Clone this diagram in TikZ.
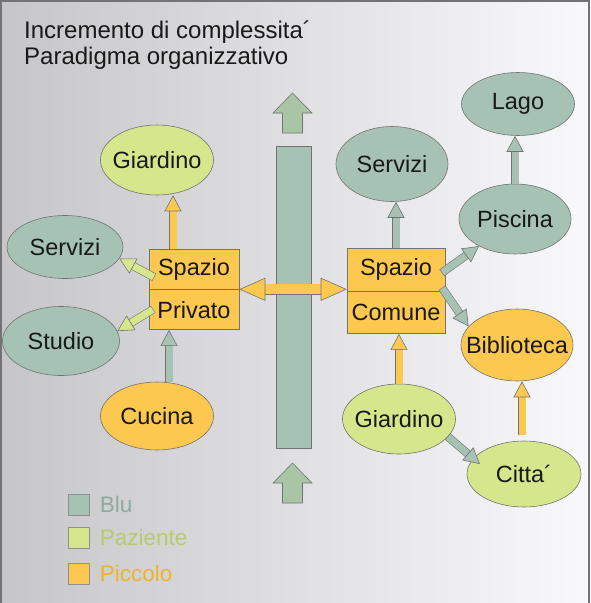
\documentclass[tikz,border=0pt]{standalone}
\usepackage{fontspec}
\setmainfont{Liberation Sans}
\usetikzlibrary{arrows.meta,shapes.geometric,positioning}

\definecolor{blu}{HTML}{A6C2B4}
\definecolor{paziente}{HTML}{D6E68C}
\definecolor{piccolo}{HTML}{FCC850}
\definecolor{bordo}{HTML}{737373}
\definecolor{freccione}{HTML}{A9C5A6}
\definecolor{sfondoS}{HTML}{C6C6C8}
\definecolor{sfondoD}{HTML}{F9F9FB}
\definecolor{bluT}{HTML}{8FA99C}
\definecolor{pazienteT}{HTML}{B7CB6C}
\definecolor{piccoloT}{HTML}{EDB22F}

\begin{document}
\begin{tikzpicture}[x=1pt,y=-1pt,
  every node/.style={font=\fontsize{23.5}{26}\selectfont, text=black!90},
  ovale/.style={ellipse, draw=bordo, line width=0.6pt, inner ysep=0pt, inner xsep=-6pt, minimum width=113, minimum height=70},
  scatola/.style={rectangle, draw=bordo, line width=0.6pt, fill=piccolo, inner sep=0pt, minimum width=90, minimum height=40},
  freccia/.style={draw=#1, line width=7pt,
    -{Triangle[width=17pt,length=16pt,line width=0.6pt,color=bordo,fill=#1]},
    preaction={draw=bordo, line width=8.2pt, -, shorten >=14pt, shorten <=-0.6pt}},
  doppia/.style={draw=#1, line width=10pt,
    {Triangle[width=23pt,length=26pt,line width=0.6pt,color=bordo,fill=#1]}-{Triangle[width=23pt,length=26pt,line width=0.6pt,color=bordo,fill=#1]},
    preaction={draw=bordo, line width=11.2pt, -, shorten >=24pt, shorten <=24pt}},
  quadro/.style={draw=bordo!80, line width=0.5pt, minimum size=21, inner sep=0pt},
  voce/.style={font=\fontsize{22.5}{26}\selectfont, inner sep=2pt}]

  \useasboundingbox (0,0) rectangle (591,603);
  \shade[left color=sfondoS, right color=sfondoD] (0,0) rectangle (591,603);
  \draw[bordo, line width=1.5pt] (1,603) -- (1,1) -- (589,1) -- (589,603);

  % titolo
  \node[anchor=base west, inner sep=0pt, font=\fontsize{24}{26}\selectfont] (titolo) at (24,38) {Incremento di complessita´};
  \node[anchor=base west, inner sep=0pt, font=\fontsize{24}{26}\selectfont] (sottotitolo) at (24,64) {Paradigma organizzativo};

  % colonna centrale e frecce grandi
  \node[draw=bordo, line width=0.6pt, fill=blu, minimum width=35, minimum height=302, inner sep=0pt] (colonna) at (293.5,297) {};
  \foreach \yp in {93,463}
    \filldraw[fill=freccione, draw=bordo, line width=0.6pt] (292.5,\yp) -- ++(19.5,20) -- ++(-9.5,0) -- ++(0,20) -- ++(-20,0) -- ++(0,-20) -- ++(-9.5,0) -- cycle;

  % spazio privato
  \node[scatola] (spazioP) at (194,269) {Spazio};
  \node[scatola, below=0pt of spazioP] (privato) {Privato};
  \node[ovale, fill=paziente] (giardP) at (157,160) {Giardino};
  \node[ovale, fill=blu, minimum width=116, minimum height=63] (servL) at (65,247) {Servizi};
  \node[ovale, fill=blu, minimum width=117, minimum height=69] (studio) at (61,341) {Studio};
  \node[ovale, fill=piccolo, minimum height=68] (cucina) at (157,416) {Cucina};

  % spazio comune
  \node[scatola, minimum width=98, minimum height=43] (spazioC) at (396,269.5) {Spazio};
  \node[scatola, minimum width=98, minimum height=42, below=0pt of spazioC] (comune) {Comune};
  \node[ovale, fill=blu, minimum width=112, minimum height=75] (servR) at (392,164) {Servizi};
  \node[ovale, fill=blu, minimum height=63] (lago) at (518,104) {Lago};
  \node[ovale, fill=blu, minimum width=112] (piscina) at (515,219) {Piscina};
  \node[ovale, fill=piccolo, inner xsep=-12.5pt, minimum width=112, minimum height=72] (biblio) at (517,345) {Biblioteca};
  \node[ovale, fill=paziente] (giardC) at (399,419) {Giardino};
  \node[ovale, fill=paziente, minimum width=114, minimum height=66] (citta) at (524,474) {Citta´};

  % legenda
  \node[quadro, fill=blu] (qBlu) at (79,504.5) {};
  \node[voce, text=bluT, right=8pt of qBlu] (tBlu) {Blu};
  \node[quadro, fill=paziente] (qPaz) at (79,537.5) {};
  \node[voce, text=pazienteT, right=8pt of qPaz] (tPaz) {Paziente};
  \node[quadro, fill=piccolo] (qPic) at (79,573.5) {};
  \node[voce, text=piccoloT, right=8pt of qPic] (tPic) {Piccolo};

  % connessioni
  \draw[freccia=piccolo] ([xshift=-21pt]spazioP.north) -- ([xshift=-21pt]spazioP.north |- giardP.south);
  \draw[freccia=paziente] ([xshift=5pt,yshift=-8pt]spazioP.west) -- (servL.-12);
  \draw[freccia=paziente] ([xshift=4pt]privato.west) -- (studio.10);
  \draw[freccia=blu] ([xshift=12pt]cucina.north) -- ([xshift=12pt]cucina.north |- privato.south);
  \draw[freccia=blu] (spazioC.north) -- (spazioC.north |- servR.south);
  \draw[freccia=blu] ([xshift=-3pt,yshift=-3pt]spazioC.east) -- (piscina.-143);
  \draw[freccia=blu] ([xshift=-3pt,yshift=3pt]spazioC.south east) -- (biblio.159);
  \draw[freccia=piccolo] (giardC.north) -- (giardC.north |- comune.south);
  \draw[freccia=blu] (piscina.north) -- (piscina.north |- lago.south);
  \draw[freccia=piccolo] ([xshift=-2pt,yshift=6pt]citta.north) -- ([xshift=-2pt]citta.north |- biblio.south);
  \draw[freccia=blu] (giardC.-20) -- ([xshift=8pt,yshift=-4pt]citta.165);
  \draw[doppia=piccolo] (spazioP.south east) -- (spazioP.south east -| spazioC.west);
\end{tikzpicture}
\end{document}
